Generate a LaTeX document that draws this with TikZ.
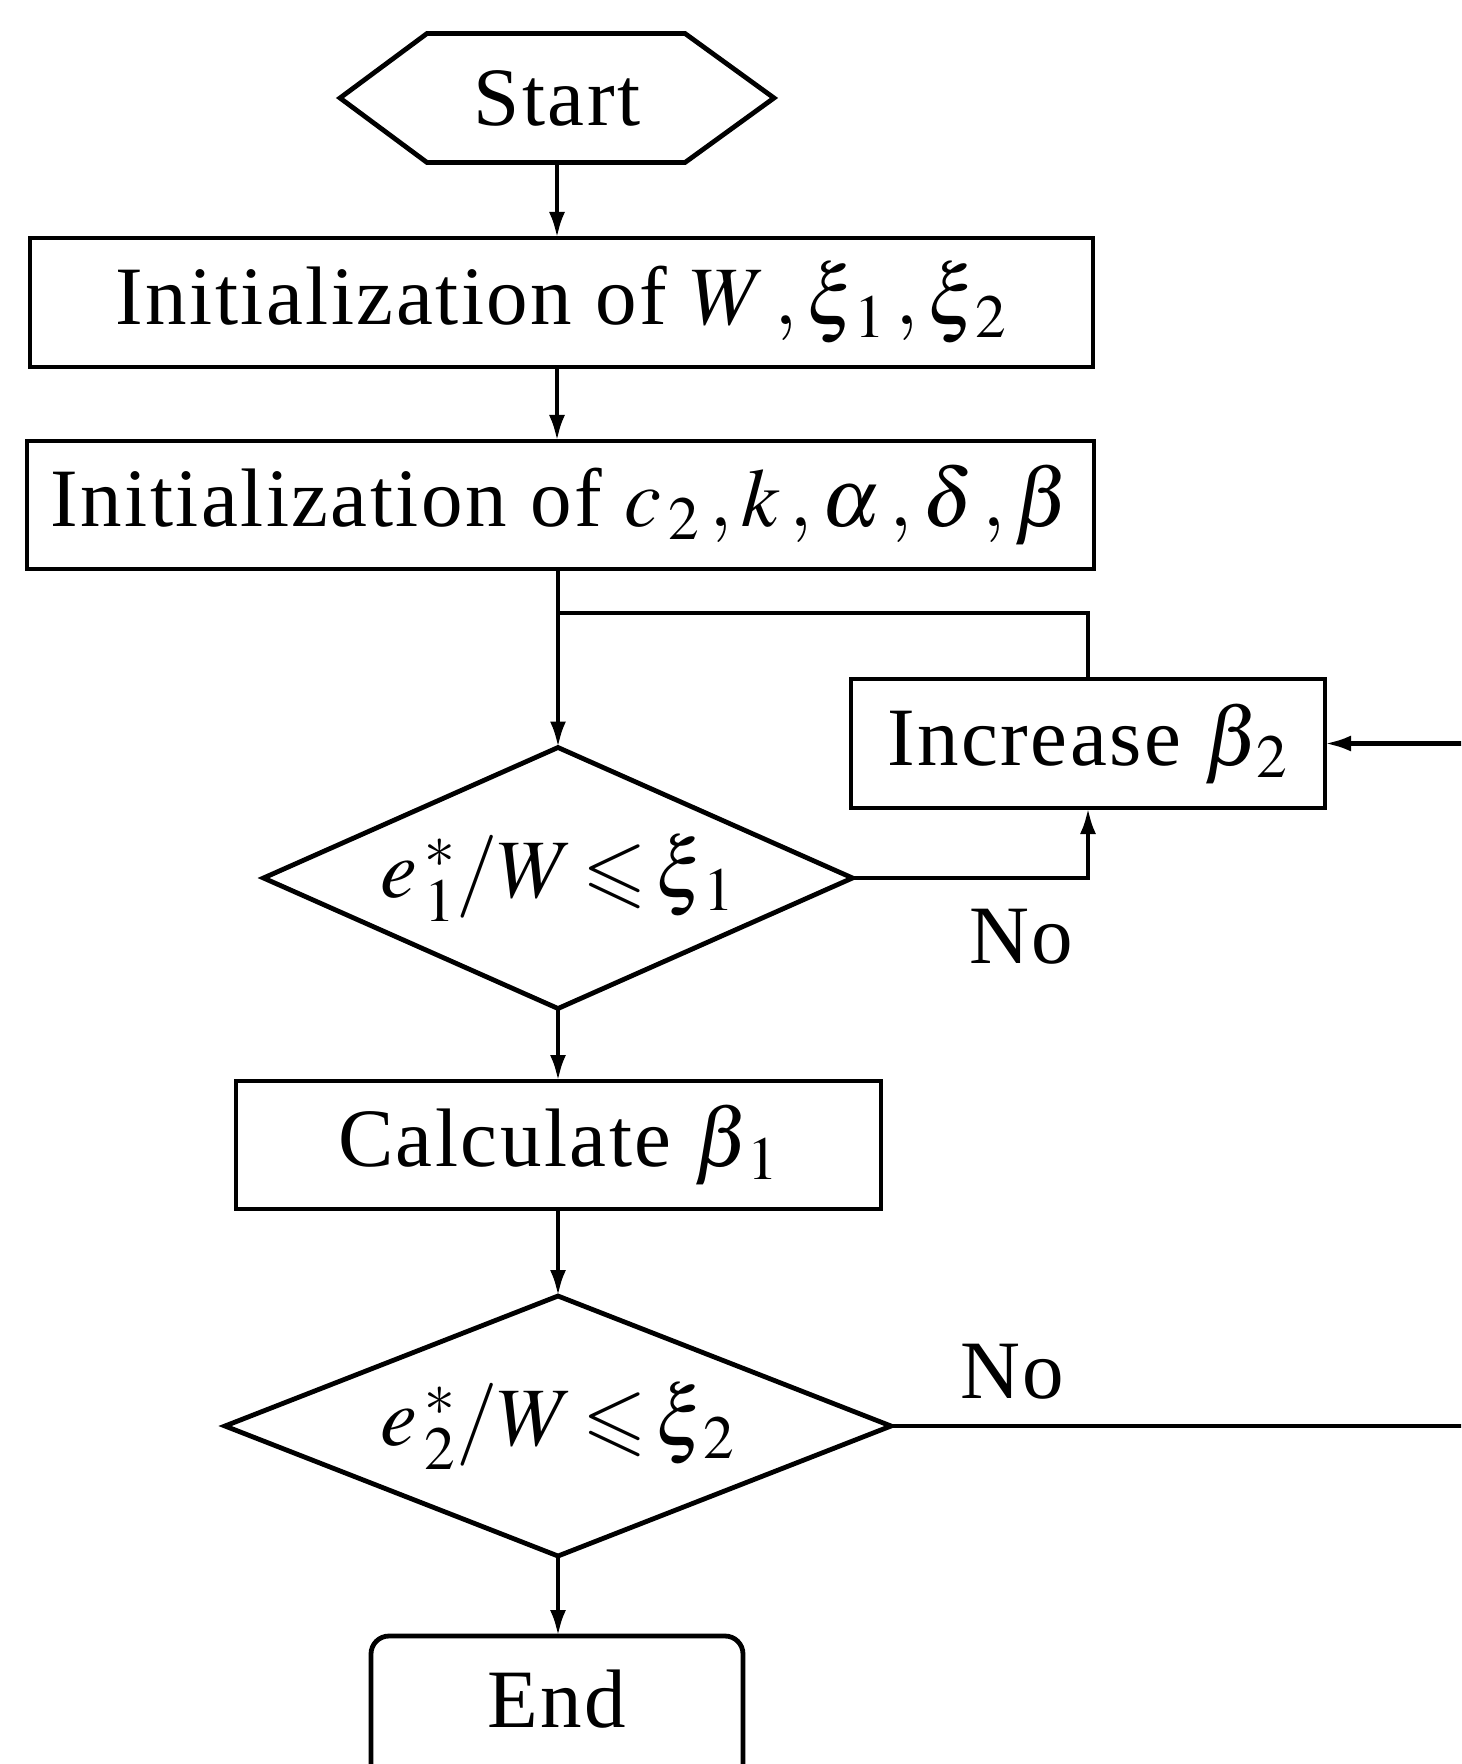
\documentclass[tikz,border=0pt]{standalone}
\usepackage{amssymb}
\usepackage{mathptmx}
\usepackage{fontspec}
\setmainfont{Liberation Serif}[LetterSpace=3]
\usetikzlibrary{arrows.meta,calc}
\newcommand\flowfont{\fontsize{41.5}{48}\selectfont}
\tikzset{
  base/.style={inner sep=0pt, outer sep=0pt, font=\flowfont, line width=2.4pt},
  boxnode/.style={base, draw, rectangle},
  shapeonly/.style={base, draw=none, rectangle},
  endbox/.style={base, draw, rectangle, rounded corners=9pt},
  border/.style={line width=2.4pt, line join=miter},
  conn/.style={line width=2.2pt},
  arr/.style={conn, -{Latex[length=13pt,width=8pt]}},
  lbl/.style={inner sep=0pt, font=\flowfont}
}
\begin{document}
\begin{tikzpicture}[x=0.5pt,y=-0.5pt]
\clip (0,0) rectangle (1461,1764);
\fill[white] (0,0) rectangle (1461,1764);

% nodes
\node[shapeonly, minimum width=217pt, minimum height=64.5pt] (start) at (557,98) {Start};
\draw[border] (start.west) -- ($(start.north west)+(87,0)$) -- ($(start.north east)+(-89,0)$)
  -- (start.east) -- ($(start.south east)+(-89,0)$) -- ($(start.south west)+(87,0)$) -- cycle;

\node[boxnode, minimum width=531.5pt, minimum height=64.5pt] (init1) at (561.5,302.5)
  {Initialization of $W\,,\xi_{\,1}\,,\xi_{\,2}$};
\node[boxnode, minimum width=533.5pt, minimum height=64pt] (init2) at (560.5,505)
  {Initialization of $c_{\,2}\,,k\,,\alpha\,,\delta\,,\beta$};

\node[shapeonly, minimum width=294.5pt, minimum height=130.5pt] (dec1) at (558,878)
  {$e_{\,1}^{\,*}/W\!\leqslant\!\xi_{\,1}$};
\draw[border] (dec1.west) -- (dec1.north) -- (dec1.east) -- (dec1.south) -- cycle;

\node[boxnode, minimum width=237pt, minimum height=64.5pt] (inc) at (1088,743.5)
  {Increase $\beta_{\,2}$};

\node[boxnode, minimum width=322.5pt, minimum height=64pt] (calc) at (558.5,1145)
  {Calculate $\beta_{\,1}$};

\node[shapeonly, minimum width=333pt, minimum height=130pt] (dec2) at (558,1426)
  {$e_{\,2}^{\,*}/W\!\leqslant\!\xi_{\,2}$};
\draw[border] (dec2.west) -- (dec2.north) -- (dec2.east) -- (dec2.south) -- cycle;

\node[endbox, minimum width=186pt, minimum height=85pt] (end) at (557,1721) {\raisebox{22pt}{End}};

\node[lbl] (no1) at (1021,937) {No};
\node[lbl] (no2) at (1012,1372) {No};

\coordinate (j) at (558,613);
\coordinate (rin) at (1470,743.5);
\coordinate (rout) at (1470,1426);

% connectors
\draw[arr] (start.south) -- (start.south |- init1.north);
\draw[arr] (init1.south -| start.south) -- (init2.north -| start.south);
\draw[arr] (init2.south -| dec1.north) -- (dec1.north);
\draw[conn] (inc.north) |- (j);
\draw[arr] (dec1.east) -| (inc.south);
\draw[arr] (rin) -- (inc.east);
\draw[arr] (dec1.south) -- (calc.north -| dec1.south);
\draw[arr] (calc.south -| dec2.north) -- (dec2.north);
\draw[conn] (dec2.east) -- (rout);
\draw[arr] (dec2.south) -- (end.north -| dec2.south);
\end{tikzpicture}
\end{document}
